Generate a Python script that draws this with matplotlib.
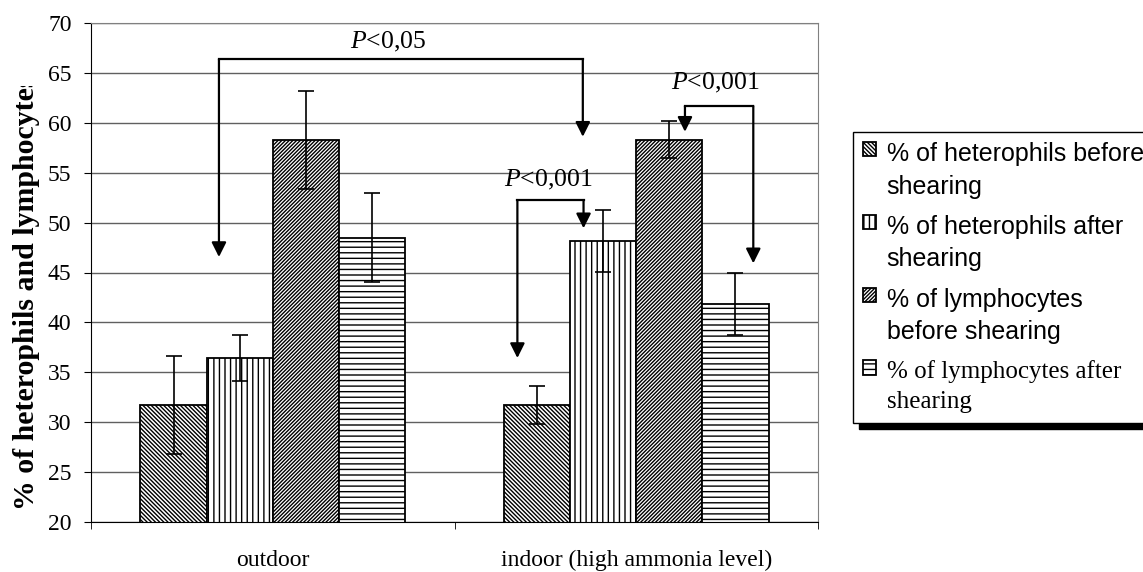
import numpy as np
import matplotlib
matplotlib.use("Agg")
import matplotlib.pyplot as plt
from matplotlib.patches import Rectangle
from matplotlib.transforms import Bbox, TransformedBbox

plt.rcParams['font.family'] = 'Liberation Serif'
plt.rcParams['mathtext.fontset'] = 'custom'
plt.rcParams['mathtext.rm'] = 'Liberation Serif'
plt.rcParams['mathtext.it'] = 'Liberation Serif:italic'
plt.rcParams['hatch.linewidth'] = 1.0

categories = ['outdoor', 'indoor (high ammonia level)']
series = ['% of heterophils before\nshearing',
          '% of heterophils after\nshearing',
          '% of lymphocytes\nbefore shearing',
          '% of lymphocytes after\nshearing']
means = [[31.7, 31.7],
         [36.4, 48.2],
         [58.3, 58.3],
         [48.5, 41.8]]
errs = [[4.9, 1.9],
        [2.3, 3.1],
        [4.9, 1.85],
        [4.5, 3.1]]
hatches = ['\\' * 8, '|||', '/' * 9, '---']

# significance brackets: x left, x right, top y, left tip, right tip
brackets = [(-0.148, 0.853, 66.36, 46.55, 58.6),
            (0.673, 0.855, 52.26, 36.43, 49.43),
            (1.134, 1.322, 61.68, 59.1, 45.92)]
p_labels = ['$P$<0,05', '$P$<0,001', '$P$<0,001']
p_pos = [(0.317, 68.1), (0.759, 54.27), (1.217, 63.99)]

fig = plt.figure(figsize=(11.43, 5.72), dpi=100)
ax = fig.add_axes([91/1143, 1-522/572, 727/1143, 499/572])

x = np.arange(len(categories))
w = 0.182
for i in range(4):
    off = (i - 1.5) * w
    ax.bar(x + off, means[i], w, bottom=0, color='white', edgecolor='black',
           linewidth=1.3, hatch=hatches[i], label=series[i], zorder=2)
    ax.errorbar(x + off, means[i], yerr=errs[i], fmt='none', ecolor='black',
                elinewidth=1.2, capsize=5.5, capthick=1.2, zorder=3)

for (xl, xr, yt, tl, tr), lab, (tx, ty) in zip(brackets, p_labels, p_pos):
    ax.plot([xl, xr], [yt, yt], color='black', lw=1.6, zorder=4,
            solid_capstyle='projecting')
    for xx, tip in [(xl, tl), (xr, tr)]:
        ax.annotate('', xy=(xx, tip), xytext=(xx, yt),
                    arrowprops=dict(arrowstyle='-|>', color='black', lw=1.6,
                                    mutation_scale=22, shrinkA=0, shrinkB=0),
                    zorder=4)
    ax.text(tx, ty, lab, ha='center', va='center', fontsize=18.5, zorder=4)

ax.set_ylim(20, 70)
ax.set_xlim(-0.5, 1.5)
ax.set_yticks(np.arange(20, 71, 5))
ax.yaxis.grid(True, color='#606060', lw=1)
ax.set_axisbelow(True)
ax.set_xticks(x)
ax.set_xticklabels(categories, fontsize=17)
ax.set_xticks([-0.5, 0.5, 1.5], minor=True)
ax.tick_params(axis='x', which='major', length=0, pad=20)
ax.tick_params(axis='x', which='minor', length=5, direction='out')
ax.tick_params(axis='y', labelsize=17, length=5, direction='out', pad=9)
for s in ['top', 'right']:
    ax.spines[s].set_color('#808080')
ax.spines['left'].set_color('black')
ax.spines['bottom'].set_color('black')

yl = fig.text(27/1143, 1-510/572, '% of heterophils and lymphocytes',
              rotation=90, ha='center', va='bottom', fontsize=21.5,
              fontweight='bold')
yl.set_clip_box(TransformedBbox(Bbox([[0, 0], [1, 1-86/572]]), fig.transFigure))
yl.set_clip_on(True)

leg = fig.legend(loc='upper left', bbox_to_anchor=(853/1143, 1-132/572),
                 borderaxespad=0, handlelength=0.5,
                 handleheight=0.5, handletextpad=0.45, labelspacing=0.65,
                 borderpad=0.4, fancybox=False, edgecolor='black',
                 framealpha=1, prop={'family': 'Liberation Sans', 'size': 18})
leg.get_frame().set_linewidth(1.0)
leg.texts[3].set_family('Liberation Serif')
for t in leg.texts:
    t.set_linespacing(1.45)
# handles sit next to the first line of each label
for col in leg._legend_handle_box.get_children():
    for item in col.get_children():
        item.align = 'top'

fig.canvas.draw()
bb = leg.get_window_extent()
fig.patches.append(Rectangle((bb.x0 + 6, bb.y0 - 6), bb.width, bb.height,
                             transform=None, color='black', zorder=4))

fig.savefig('out.png', dpi=100)
